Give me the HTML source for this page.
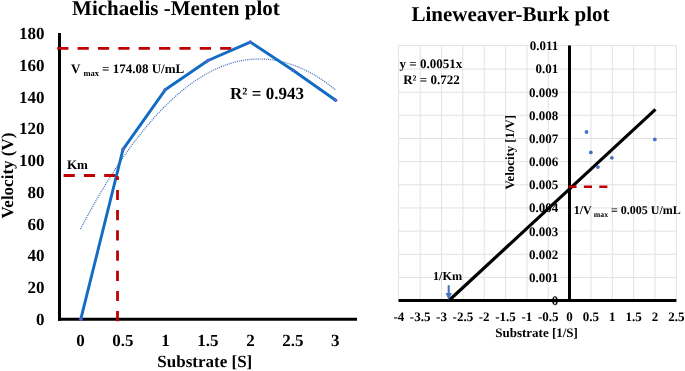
<!DOCTYPE html>
<html>
<head>
<meta charset="utf-8">
<style>
html,body{margin:0;padding:0;background:#fff;width:685px;height:371px;overflow:hidden;}
svg{display:block;}
text{font-family:"Liberation Serif",serif;font-weight:bold;fill:#000;text-rendering:geometricPrecision;}
.g{filter:opacity(1);}
</style>
</head>
<body>
<svg width="685" height="371" viewBox="0 0 685 371">
<g class="g">
<!-- ================= LEFT CHART ================= -->
<text x="175.9" y="14.7" font-size="21" text-anchor="middle">Michaelis -Menten plot</text>

<!-- y tick labels -->
<g font-size="17" text-anchor="end">
<text x="44.5" y="325">0</text>
<text x="44.5" y="293.2">20</text>
<text x="44.5" y="261.4">40</text>
<text x="44.5" y="229.6">60</text>
<text x="44.5" y="197.9">80</text>
<text x="44.5" y="166.1">100</text>
<text x="44.5" y="134.3">120</text>
<text x="44.5" y="102.5">140</text>
<text x="44.5" y="70.7">160</text>
<text x="44.5" y="39">180</text>
</g>
<!-- x tick labels -->
<g font-size="17" text-anchor="middle">
<text x="80.5" y="345.8">0</text>
<text x="122.95" y="345.8">0.5</text>
<text x="165.4" y="345.8">1</text>
<text x="207.9" y="345.8">1.5</text>
<text x="250.4" y="345.8">2</text>
<text x="292.8" y="345.8">2.5</text>
<text x="335.3" y="345.8">3</text>
</g>
<text x="204.8" y="367.2" font-size="17" text-anchor="middle">Substrate [S]</text>
<text transform="translate(13.2,175.5) rotate(-90)" font-size="17" text-anchor="middle">Velocity (V)</text>

<!-- axes -->
<line x1="59.5" y1="33" x2="59.5" y2="320.8" stroke="#000" stroke-width="3"/>
<line x1="58" y1="319.2" x2="357" y2="319.2" stroke="#000" stroke-width="3"/>
<!-- trend (dotted) -->
<polyline fill="none" stroke="#4472c4" stroke-width="1.2" stroke-dasharray="1.1 1" points="80.5,229.0 85.5,219.6 90.5,210.4 95.5,201.6 100.5,192.9 105.5,184.6 110.5,176.5 115.5,168.8 120.5,161.2 125.5,154.0 130.5,147.0 135.5,140.3 140.5,133.9 145.5,127.7 150.5,121.8 155.5,116.1 160.5,110.8 165.5,105.7 170.5,100.8 175.5,96.3 180.5,92.0 185.5,87.9 190.5,84.1 195.5,80.6 200.5,77.4 205.5,74.4 210.4,71.7 215.4,69.2 220.4,67.0 225.4,65.1 230.4,63.4 235.4,62.0 240.4,60.9 245.4,60.0 250.4,59.4 255.4,59.1 260.4,59.0 265.4,59.2 270.4,59.6 275.4,60.3 280.4,61.3 285.4,62.6 290.4,64.1 295.4,65.9 300.4,67.9 305.4,70.2 310.4,72.8 315.4,75.6 320.4,78.7 325.4,82.1 330.4,85.8 335.4,89.7"/>

<line x1="63.6" y1="175.5" x2="116" y2="175.5" stroke="#c00000" stroke-width="2.8" stroke-dasharray="11.2 9.1"/>
<!-- data line -->
<polyline fill="none" stroke="#126cc4" stroke-width="2.9" stroke-linejoin="round" points="80.8,319.2 123,149.4 165.2,89.8 208,60.5 250.3,42.1 293,70.2 335.6,100.2"/>
<g fill="#4f66cc">
<circle cx="80.8" cy="319.2" r="1.8"/><circle cx="123" cy="149.4" r="1.8"/><circle cx="165.2" cy="89.8" r="1.8"/><circle cx="208" cy="60.5" r="1.8"/><circle cx="250.3" cy="42.1" r="1.8"/><circle cx="293" cy="70.2" r="1.8"/><circle cx="335.6" cy="100.2" r="1.8"/>
</g>
<!-- red dashed lines -->
<line x1="57.2" y1="48.3" x2="231.2" y2="48.3" stroke="#c00000" stroke-width="2.8" stroke-dasharray="11.2 9.17"/>
<line x1="117.5" y1="321.3" x2="117.5" y2="176.2" stroke="#c00000" stroke-width="2.8" stroke-dasharray="10.2 10"/>
<!-- annotations -->
<text x="71" y="73.2" font-size="13">V</text>
<text x="83.5" y="76" font-size="8.5">max</text>
<text x="102" y="73.2" font-size="13">= 174.08 U/mL</text>
<text x="67" y="168.6" font-size="13">Km</text>
<text x="267" y="98.7" font-size="17" text-anchor="middle">R² = 0.943</text>

<!-- ================= RIGHT CHART ================= -->
<text x="510.5" y="21" font-size="21" text-anchor="middle">Lineweaver-Burk plot</text>

<!-- grid -->
<g stroke="#e2e2e2" stroke-width="1">
<line x1="398.50" y1="45.6" x2="398.50" y2="300.5"/>
<line x1="420.16" y1="45.6" x2="420.16" y2="300.5"/>
<line x1="441.51" y1="45.6" x2="441.51" y2="300.5"/>
<line x1="462.86" y1="45.6" x2="462.86" y2="300.5"/>
<line x1="484.21" y1="45.6" x2="484.21" y2="300.5"/>
<line x1="505.56" y1="45.6" x2="505.56" y2="300.5"/>
<line x1="526.91" y1="45.6" x2="526.91" y2="300.5"/>
<line x1="548.26" y1="45.6" x2="548.26" y2="300.5"/>
<line x1="590.96" y1="45.6" x2="590.96" y2="300.5"/>
<line x1="612.31" y1="45.6" x2="612.31" y2="300.5"/>
<line x1="633.66" y1="45.6" x2="633.66" y2="300.5"/>
<line x1="655.01" y1="45.6" x2="655.01" y2="300.5"/>
<line x1="676.36" y1="45.6" x2="676.36" y2="300.5"/>
<line x1="398.5" y1="277.44" x2="676.4" y2="277.44"/>
<line x1="398.5" y1="254.28" x2="676.4" y2="254.28"/>
<line x1="398.5" y1="231.12" x2="676.4" y2="231.12"/>
<line x1="398.5" y1="207.96" x2="676.4" y2="207.96"/>
<line x1="398.5" y1="184.80" x2="676.4" y2="184.80"/>
<line x1="398.5" y1="161.64" x2="676.4" y2="161.64"/>
<line x1="398.5" y1="138.48" x2="676.4" y2="138.48"/>
<line x1="398.5" y1="115.32" x2="676.4" y2="115.32"/>
<line x1="398.5" y1="92.16" x2="676.4" y2="92.16"/>
<line x1="398.5" y1="69.00" x2="676.4" y2="69.00"/>
<line x1="398.5" y1="45.60" x2="676.4" y2="45.60"/>
</g>

<!-- y tick labels -->
<g font-size="13" text-anchor="end" stroke="#fff" stroke-width="1.5" paint-order="stroke">
<text x="558.3" y="305.02">0</text>
<text x="558.3" y="281.86">0.001</text>
<text x="558.3" y="258.71">0.002</text>
<text x="558.3" y="235.55">0.003</text>
<text x="558.3" y="212.40">0.004</text>
<text x="558.3" y="189.24">0.005</text>
<text x="558.3" y="166.08">0.006</text>
<text x="558.3" y="142.93">0.007</text>
<text x="558.3" y="119.77">0.008</text>
<text x="558.3" y="96.62">0.009</text>
<text x="558.3" y="73.46">0.01</text>
<text x="558.3" y="50.30">0.011</text>
</g>
<!-- x tick labels -->
<g font-size="13" text-anchor="middle">
<text x="398.81" y="320.8">-4</text>
<text x="420.16" y="320.8">-3.5</text>
<text x="441.51" y="320.8">-3</text>
<text x="462.86" y="320.8">-2.5</text>
<text x="484.21" y="320.8">-2</text>
<text x="505.56" y="320.8">-1.5</text>
<text x="526.91" y="320.8">-1</text>
<text x="548.26" y="320.8">-0.5</text>
<text x="569.61" y="320.8">0</text>
<text x="590.96" y="320.8">0.5</text>
<text x="612.31" y="320.8">1</text>
<text x="633.66" y="320.8">1.5</text>
<text x="655.01" y="320.8">2</text>
<text x="676.36" y="320.8">2.5</text>
</g>
<text x="536.6" y="336.6" font-size="13" text-anchor="middle">Substrate [1/S]</text>
<text transform="translate(514.1,152.2) rotate(-90)" font-size="12.8" text-anchor="middle">Velocity [1/V]</text>

<!-- equation -->
<text x="399.5" y="68" font-size="13">y = 0.0051x</text>
<text x="403.2" y="83.9" font-size="13">R² = 0.722</text>

<!-- axes -->
<line x1="569.5" y1="45.5" x2="569.5" y2="302" stroke="#000" stroke-width="3"/>
<line x1="398.5" y1="300.5" x2="676.4" y2="300.5" stroke="#000" stroke-width="3"/>


<!-- trend line -->
<line x1="449.5" y1="300" x2="655.5" y2="109.3" stroke="#000" stroke-width="3.2"/>

<!-- red dashed -->
<line x1="568.5" y1="186.8" x2="607.4" y2="186.8" stroke="#c00000" stroke-width="2.4" stroke-dasharray="8.1 7.3"/>
<!-- points -->
<g fill="#4472c4">
<circle cx="586.5" cy="132" r="1.9"/>
<circle cx="590.8" cy="152.4" r="1.9"/>
<circle cx="597.9" cy="167.1" r="1.9"/>
<circle cx="611.9" cy="157.8" r="1.9"/>
<circle cx="654.8" cy="139.4" r="1.9"/>
</g>

<!-- 1/Km arrow -->
<text x="433" y="280" font-size="12.2">1/Km</text>
<line x1="448.7" y1="285.2" x2="448.7" y2="294" stroke="#4472c4" stroke-width="2.1"/>
<path d="M445.6,293 L451.8,293 L448.7,300 Z" fill="#4472c4"/>

<!-- 1/Vmax annotation -->
<text x="573.7" y="214" font-size="12">1/V</text>
<text x="593.8" y="216.8" font-size="7.8">max</text>
<text x="611" y="214" font-size="12">= 0.005 U/mL</text>
</g>
</svg>
</body>
</html>
